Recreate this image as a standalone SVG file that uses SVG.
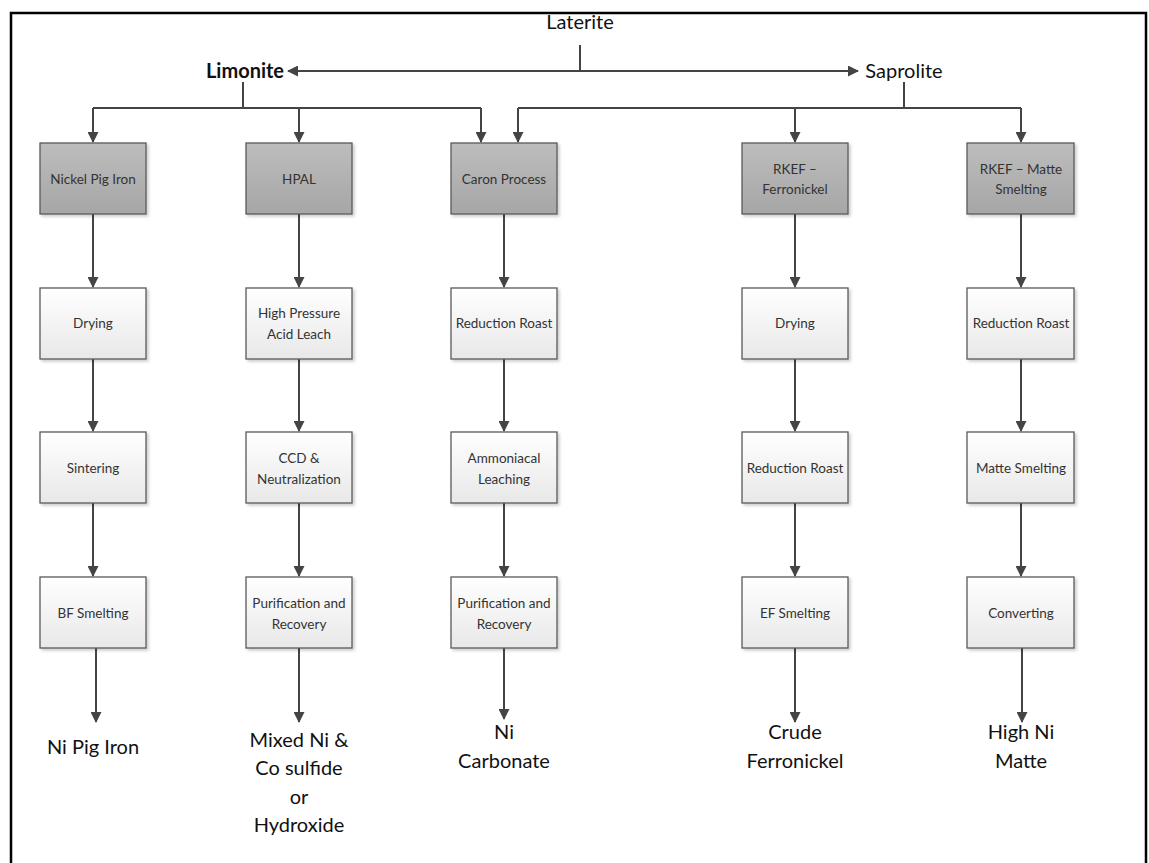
<svg xmlns="http://www.w3.org/2000/svg" width="1149" height="863" viewBox="0 0 1149 863">
<style>
.bx{stroke:#5a5a5a;stroke-width:1.3}
.dk{fill:url(#gd)}
.lt{fill:url(#gl)}
.t{font-family:Lato,"Open Sans","Liberation Sans",sans-serif;font-size:13.5px;fill:#333;text-anchor:middle}
.big{font-family:Lato,"Open Sans","Liberation Sans",sans-serif;font-size:20px;fill:#111;text-anchor:middle}
.c{stroke:#444;stroke-width:2;fill:none}
.ca{stroke:#444;stroke-width:2;fill:none;marker-end:url(#ah)}
</style>
<defs>
<linearGradient id="gd" x1="0" y1="0" x2="0" y2="1"><stop offset="0" stop-color="#bdbdbd"/><stop offset="1" stop-color="#a6a6a6"/></linearGradient>
<linearGradient id="gl" x1="0" y1="0" x2="0" y2="1"><stop offset="0" stop-color="#ffffff"/><stop offset="1" stop-color="#e8e8e8"/></linearGradient>
<filter id="sh" x="-10%" y="-10%" width="130%" height="130%"><feDropShadow dx="2" dy="2" stdDeviation="1.5" flood-color="#000" flood-opacity="0.2"/></filter>
<marker id="ah" markerWidth="11" markerHeight="11" refX="10" refY="5.5" orient="auto" markerUnits="userSpaceOnUse"><path d="M0,0 L11,5.5 L0,11 Z" fill="#444"/></marker>
</defs>
<rect x="0" y="0" width="1149" height="863" fill="#fff"/>
<path d="M11,866 V13 H1146 V866" fill="none" stroke="#000" stroke-width="2.5"/>

<g id="connectors">
<path class="c" d="M580,45 V71"/>
<path class="ca" d="M580,71 H288"/>
<path class="ca" d="M580,71 H858"/>
<path class="c" d="M243,82 V108 M93,108 H481"/>
<path class="ca" d="M93,108 V142"/>
<path class="ca" d="M299,108 V142"/>
<path class="ca" d="M481,108 V142"/>
<path class="c" d="M904,82 V108 M518,108 H1021"/>
<path class="ca" d="M518,108 V142"/>
<path class="ca" d="M795,108 V142"/>
<path class="ca" d="M1021,108 V142"/>
<path class="ca" d="M93,214 V287"/><path class="ca" d="M93,359 V431"/><path class="ca" d="M93,503 V576"/>
<path class="ca" d="M299,214 V287"/><path class="ca" d="M299,359 V431"/><path class="ca" d="M299,503 V576"/>
<path class="ca" d="M504,214 V287"/><path class="ca" d="M504,359 V431"/><path class="ca" d="M504,503 V576"/>
<path class="ca" d="M795,214 V287"/><path class="ca" d="M795,359 V431"/><path class="ca" d="M795,503 V576"/>
<path class="ca" d="M1021,214 V287"/><path class="ca" d="M1021,359 V431"/><path class="ca" d="M1021,503 V576"/>
<path class="ca" d="M96,648 V722"/>
<path class="ca" d="M299,648 V722"/>
<path class="ca" d="M504,648 V719"/>
<path class="ca" d="M795,648 V722"/>
<path class="ca" d="M1022,648 V722"/>
</g>

<g id="laterite"><text class="big" x="580" y="29">Laterite</text></g>
<g id="limonite"><text class="big" x="245" y="78" font-weight="bold" font-size="19">Limonite</text></g>
<g id="saprolite"><text class="big" x="904" y="78">Saprolite</text></g>

<g id="n-npi"><rect class="bx dk" filter="url(#sh)" x="40" y="143" width="106" height="71"/><text class="t" x="93" y="184">Nickel Pig Iron</text></g>
<g id="n-hpal"><rect class="bx dk" filter="url(#sh)" x="246" y="143" width="106" height="71"/><text class="t" x="299" y="184">HPAL</text></g>
<g id="n-caron"><rect class="bx dk" filter="url(#sh)" x="451" y="143" width="106" height="71"/><text class="t" x="504" y="184">Caron Process</text></g>
<g id="n-rkef-fn"><rect class="bx dk" filter="url(#sh)" x="742" y="143" width="106" height="71"/><text class="t" x="795" y="174">RKEF –</text><text class="t" x="795" y="194">Ferronickel</text></g>
<g id="n-rkef-ms"><rect class="bx dk" filter="url(#sh)" x="967" y="143" width="107" height="71"/><text class="t" x="1021" y="174">RKEF – Matte</text><text class="t" x="1021" y="194">Smelting</text></g>

<g id="n-dry1"><rect class="bx lt" filter="url(#sh)" x="40" y="288" width="106" height="71"/><text class="t" x="93" y="328">Drying</text></g>
<g id="n-hpal2"><rect class="bx lt" filter="url(#sh)" x="246" y="288" width="106" height="71"/><text class="t" x="299" y="318">High Pressure</text><text class="t" x="299" y="339">Acid Leach</text></g>
<g id="n-rr1"><rect class="bx lt" filter="url(#sh)" x="451" y="288" width="106" height="71"/><text class="t" x="504" y="328">Reduction Roast</text></g>
<g id="n-dry2"><rect class="bx lt" filter="url(#sh)" x="742" y="288" width="106" height="71"/><text class="t" x="795" y="328">Drying</text></g>
<g id="n-rr2"><rect class="bx lt" filter="url(#sh)" x="967" y="288" width="107" height="71"/><text class="t" x="1021" y="328">Reduction Roast</text></g>

<g id="n-sint"><rect class="bx lt" filter="url(#sh)" x="40" y="432" width="106" height="71"/><text class="t" x="93" y="473">Sintering</text></g>
<g id="n-ccd"><rect class="bx lt" filter="url(#sh)" x="246" y="432" width="106" height="71"/><text class="t" x="299" y="463">CCD &amp;</text><text class="t" x="299" y="484">Neutralization</text></g>
<g id="n-amm"><rect class="bx lt" filter="url(#sh)" x="451" y="432" width="106" height="71"/><text class="t" x="504" y="463">Ammoniacal</text><text class="t" x="504" y="484">Leaching</text></g>
<g id="n-rr3"><rect class="bx lt" filter="url(#sh)" x="742" y="432" width="106" height="71"/><text class="t" x="795" y="473">Reduction Roast</text></g>
<g id="n-ms"><rect class="bx lt" filter="url(#sh)" x="967" y="432" width="107" height="71"/><text class="t" x="1021" y="473">Matte Smelting</text></g>

<g id="n-bf"><rect class="bx lt" filter="url(#sh)" x="40" y="577" width="106" height="71"/><text class="t" x="93" y="618">BF Smelting</text></g>
<g id="n-pur1"><rect class="bx lt" filter="url(#sh)" x="246" y="577" width="106" height="71"/><text class="t" x="299" y="608">Purification and</text><text class="t" x="299" y="629">Recovery</text></g>
<g id="n-pur2"><rect class="bx lt" filter="url(#sh)" x="451" y="577" width="106" height="71"/><text class="t" x="504" y="608">Purification and</text><text class="t" x="504" y="629">Recovery</text></g>
<g id="n-ef"><rect class="bx lt" filter="url(#sh)" x="742" y="577" width="106" height="71"/><text class="t" x="795" y="618">EF Smelting</text></g>
<g id="n-conv"><rect class="bx lt" filter="url(#sh)" x="967" y="577" width="107" height="71"/><text class="t" x="1021" y="618">Converting</text></g>

<g id="o-npi"><text class="big" x="93" y="754">Ni Pig Iron</text></g>
<g id="o-mixed"><text class="big" x="299" y="747">Mixed Ni &amp;</text><text class="big" x="299" y="775">Co sulfide</text><text class="big" x="299" y="804">or</text><text class="big" x="299" y="832">Hydroxide</text></g>
<g id="o-carb"><text class="big" x="504" y="739">Ni</text><text class="big" x="504" y="768">Carbonate</text></g>
<g id="o-fn"><text class="big" x="795" y="739">Crude</text><text class="big" x="795" y="768">Ferronickel</text></g>
<g id="o-matte"><text class="big" x="1021" y="739">High Ni</text><text class="big" x="1021" y="768">Matte</text></g>
</svg>
